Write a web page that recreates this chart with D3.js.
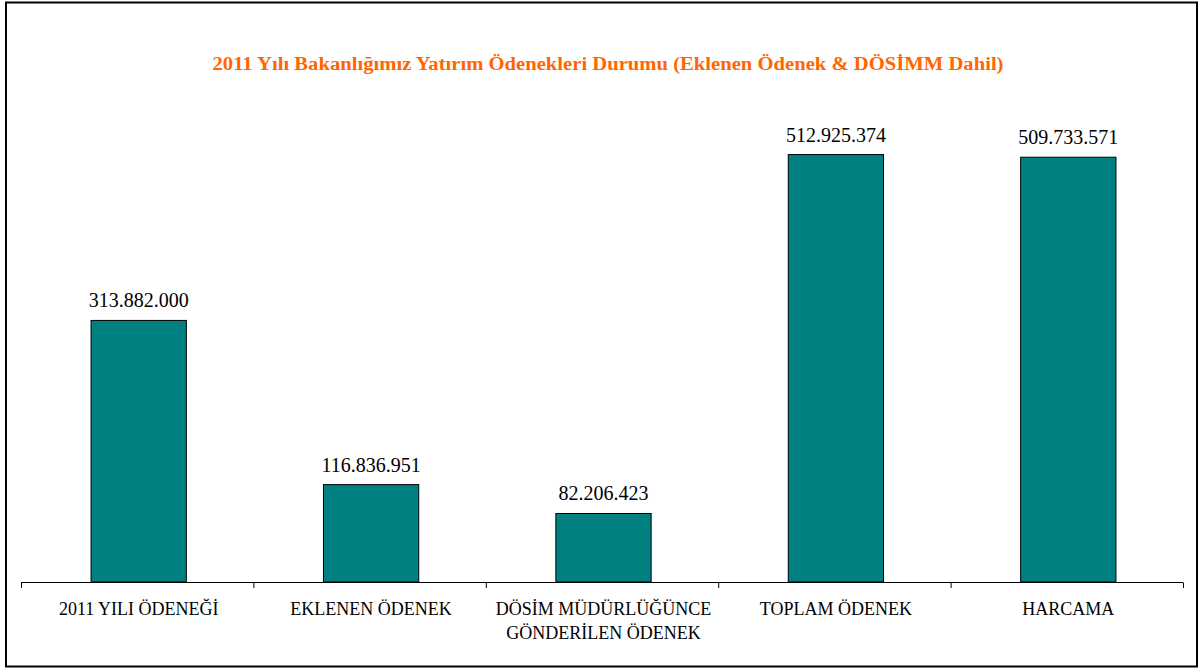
<!DOCTYPE html>
<html lang="tr">
<head>
<meta charset="utf-8">
<title>2011 Yatırım Ödenekleri</title>
<style>
  body { margin: 0; background: #fff; }
  svg { display: block; font-family: "Liberation Serif", "Times New Roman", serif; }
</style>
<script src="https://cdnjs.cloudflare.com/ajax/libs/d3/7.8.5/d3.min.js"></script>
</head>
<body>
<div id="chart"></div>
<script>
  // chart values
  var categories = [
    ["2011 YILI ÖDENEĞİ"],
    ["EKLENEN ÖDENEK"],
    ["DÖSİM MÜDÜRLÜĞÜNCE", "GÖNDERİLEN ÖDENEK"],
    ["TOPLAM ÖDENEK"],
    ["HARCAMA"]
  ];
  var values = [313882000, 116836951, 82206423, 512925374, 509733571];
  var chartTitle = "2011 Yılı Bakanlığımız Yatırım Ödenekleri Durumu (Eklenen Ödenek & DÖSİMM Dahil)";

  var w = 1200, h = 671;
  var svg = d3.select("#chart").append("svg")
    .attr("width", w)
    .attr("height", h);

  // outer frame
  svg.append("rect")
    .attr("x", 6).attr("y", 2.5)
    .attr("width", 1191).attr("height", 664)
    .attr("fill", "none")
    .attr("stroke", "#000")
    .attr("stroke-width", 2);

  svg.append("text")
    .attr("x", 608).attr("y", 70)
    .attr("text-anchor", "middle")
    .attr("fill", "#ff6600")
    .attr("font-weight", "bold")
    .attr("font-size", 18)
    .attr("textLength", 791)
    .attr("lengthAdjust", "spacingAndGlyphs")
    .text(chartTitle);

  var x = d3.scaleBand()
    .domain(d3.range(values.length))
    .range([22.5, 1184.5])
    .paddingInner(0.59)
    .paddingOuter(0.295);

  var y = d3.scaleLinear()
    .domain([0, 600000000])
    .range([582, 82]);

  var fmt = function(v) { return d3.format(",")(v).replace(/,/g, "."); };

  svg.selectAll("rect.bar")
    .data(values)
    .enter().append("rect")
    .attr("class", "bar")
    .attr("x", function(d, i) { return x(i); })
    .attr("y", function(d) { return y(d); })
    .attr("width", x.bandwidth())
    .attr("height", function(d) { return y(0) - y(d); })
    .attr("fill", "#008080")
    .attr("stroke", "#000")
    .attr("stroke-width", 1);

  svg.selectAll("text.val")
    .data(values)
    .enter().append("text")
    .attr("class", "val")
    .attr("x", function(d, i) { return x(i) + x.bandwidth() / 2; })
    .attr("y", function(d) { return y(d) - 13; })
    .attr("text-anchor", "middle")
    .attr("font-size", 20)
    .attr("fill", "#000")
    .text(fmt);

  // category axis with ticks between bands
  var step = (1183 - 21) / values.length;
  var axis = svg.append("g").attr("stroke", "#000");
  axis.append("line")
    .attr("x1", 21).attr("x2", 1183)
    .attr("y1", 582.5).attr("y2", 582.5);
  axis.selectAll("line.tick")
    .data(d3.range(values.length + 1))
    .enter().append("line")
    .attr("class", "tick")
    .attr("x1", function(d) { return 21.5 + d * step; })
    .attr("x2", function(d) { return 21.5 + d * step; })
    .attr("y1", 582.5).attr("y2", 588);

  var labels = svg.selectAll("text.cat")
    .data(categories)
    .enter().append("text")
    .attr("class", "cat")
    .attr("text-anchor", "middle")
    .attr("font-size", 18)
    .attr("fill", "#000");
  labels.selectAll("tspan")
    .data(function(d, i) { return d.map(function(s) { return { s: s, i: i }; }); })
    .enter().append("tspan")
    .attr("x", function(d) { return x(d.i) + x.bandwidth() / 2; })
    .attr("y", function(d, j) { return 615 + j * 24; })
    .text(function(d) { return d.s; });
</script>
</body>
</html>
